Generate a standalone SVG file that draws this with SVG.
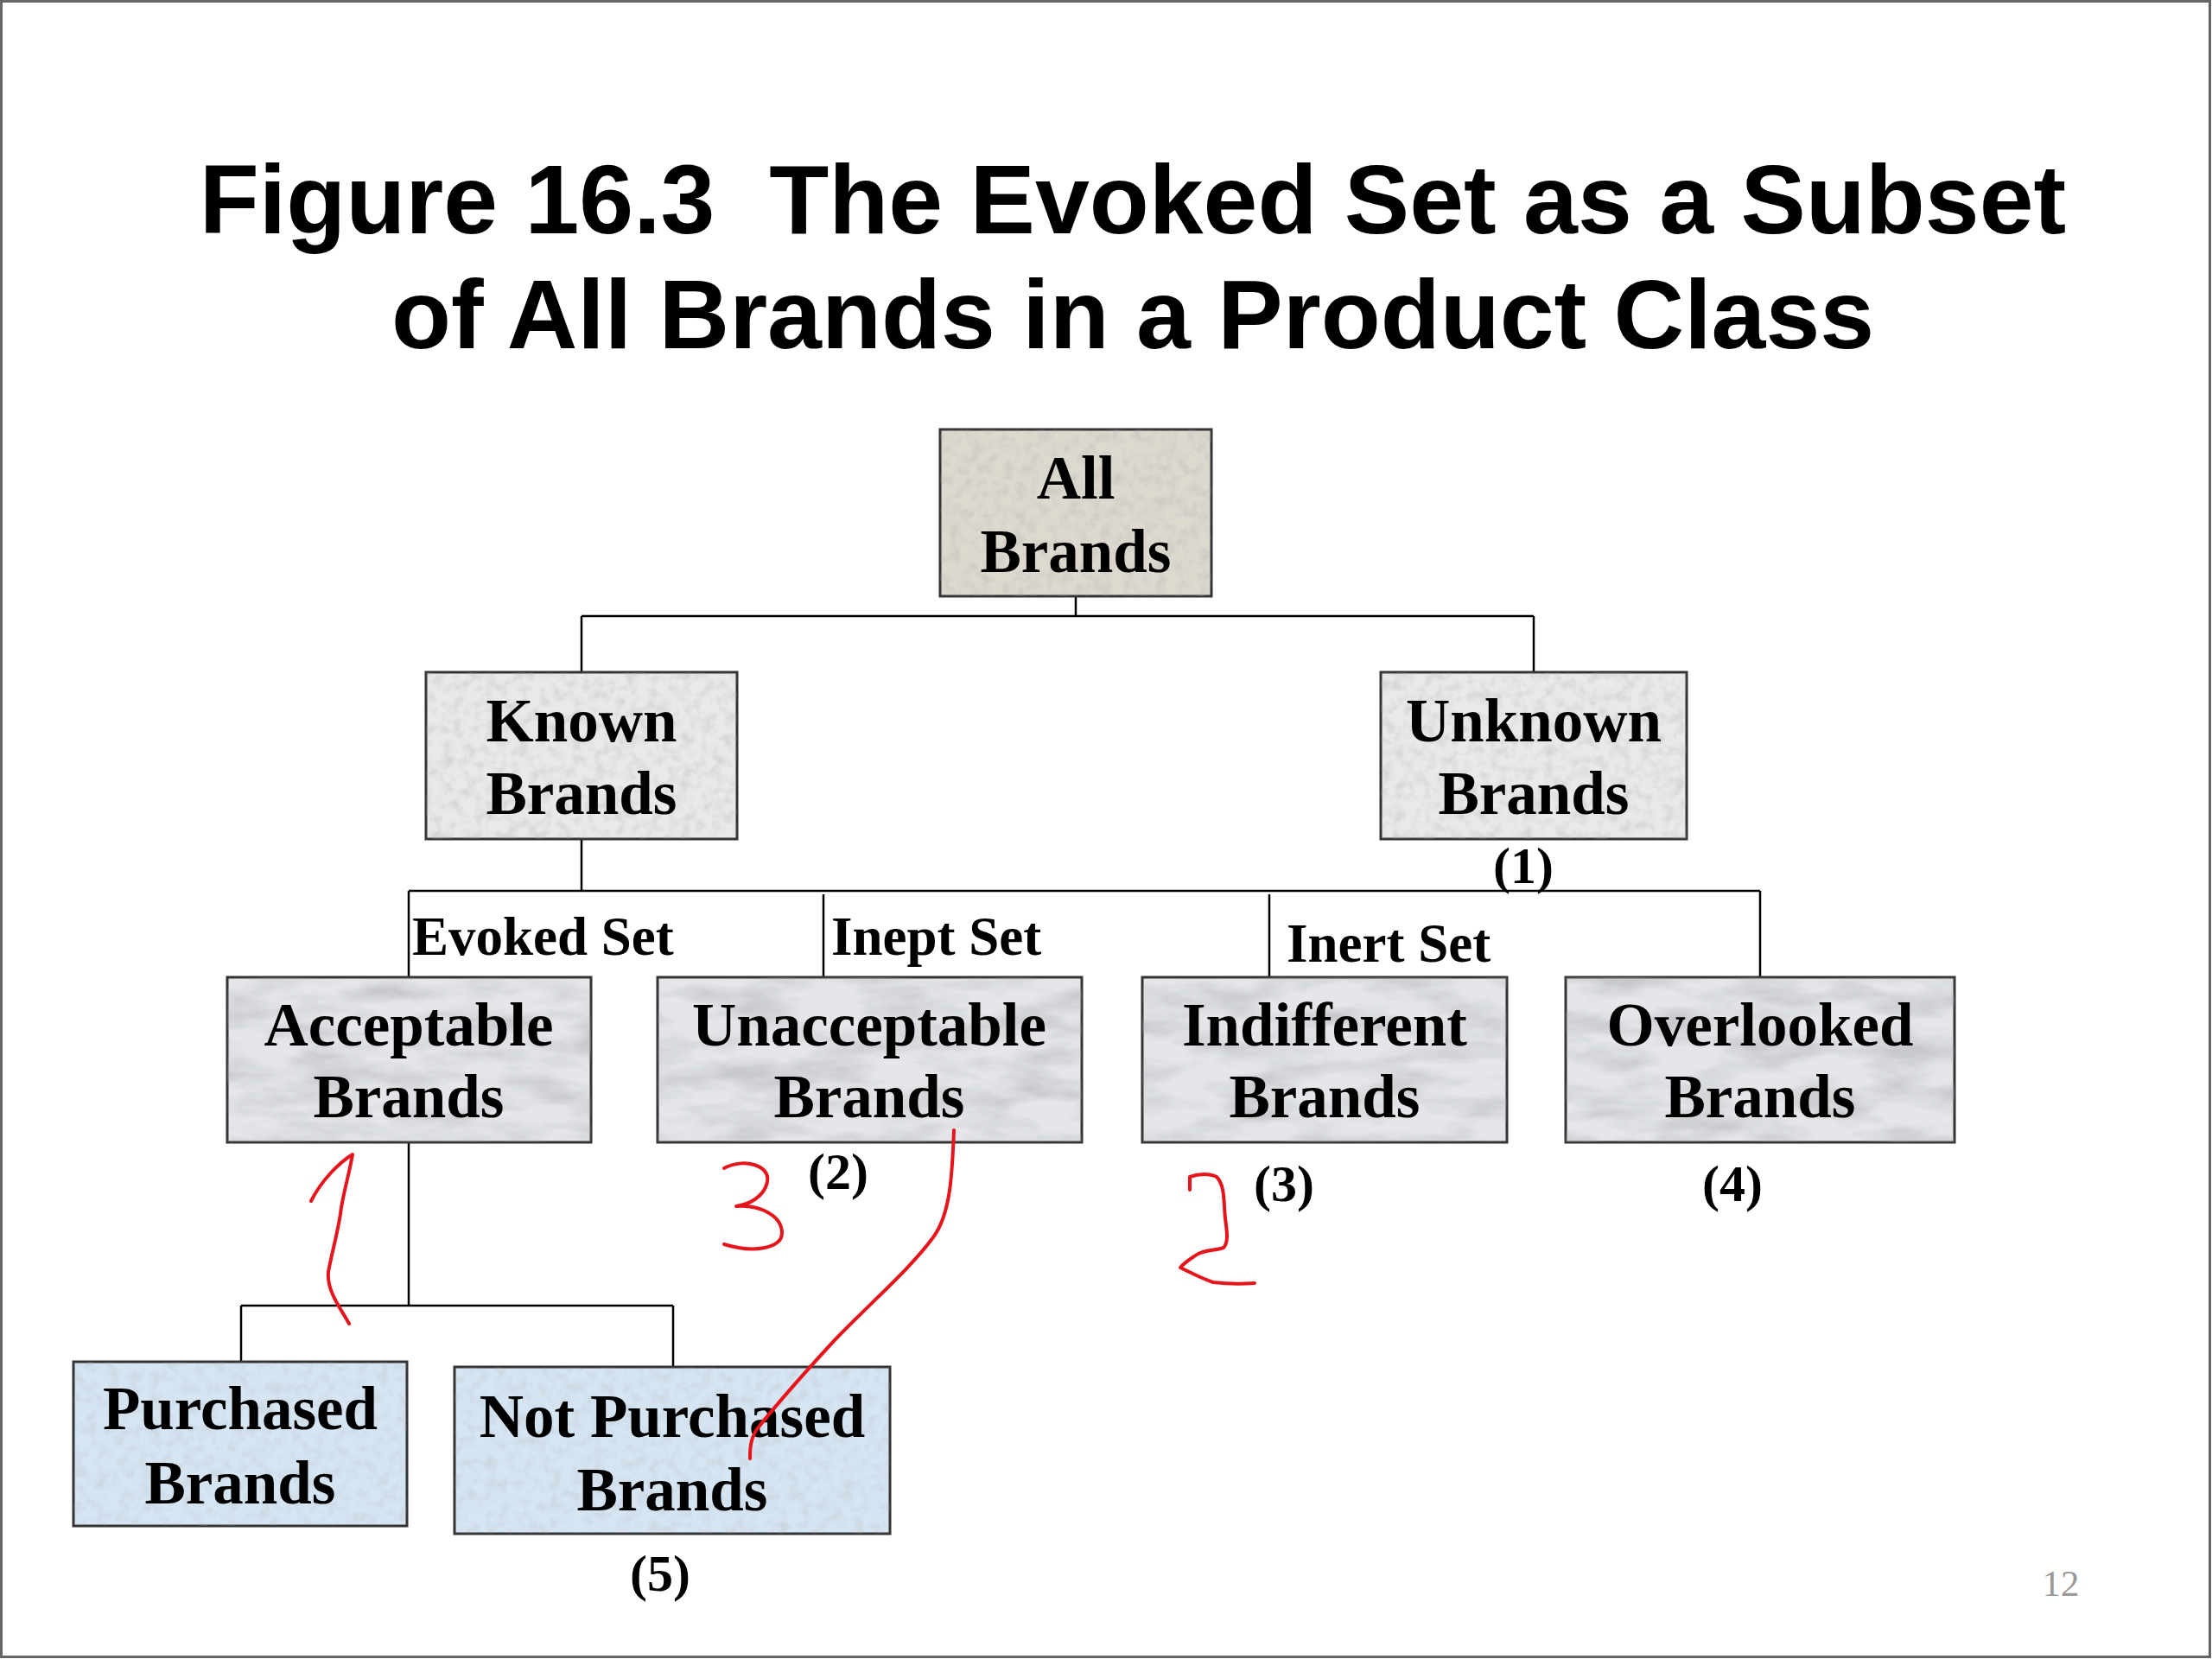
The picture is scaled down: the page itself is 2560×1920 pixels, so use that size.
<svg xmlns="http://www.w3.org/2000/svg" width="2560" height="1920" viewBox="0 0 2560 1920">
<defs>
<filter id="tex" x="0" y="0" width="100%" height="100%">
<feTurbulence type="fractalNoise" baseFrequency="0.012 0.035" numOctaves="4" seed="7"/>
<feColorMatrix type="matrix" values="0 0 0 0 0.35  0 0 0 0 0.36  0 0 0 0 0.38  1.6 0 0 0 -0.62"/>
<feComposite operator="in" in2="SourceGraphic"/>
</filter>
<filter id="grain" x="0" y="0" width="100%" height="100%">
<feTurbulence type="fractalNoise" baseFrequency="0.08" numOctaves="3" seed="2"/>
<feColorMatrix type="matrix" values="0 0 0 0 0.4  0 0 0 0 0.4  0 0 0 0 0.4  1.4 0 0 0 -0.58"/>
<feComposite operator="in" in2="SourceGraphic"/>
</filter>
</defs>
<style>
.title{font-family:"Liberation Sans",Arial,sans-serif;font-weight:bold;font-size:113px;fill:#000;text-anchor:middle}
.box{stroke:#333;stroke-width:3}
.t{font-family:"Liberation Serif","Times New Roman",serif;font-weight:bold;font-size:71px;fill:#000;text-anchor:middle}
.lbl{font-family:"Liberation Serif","Times New Roman",serif;font-weight:bold;font-size:63px;fill:#000}
.num{font-family:"Liberation Serif","Times New Roman",serif;font-weight:bold;font-size:60px;fill:#000;text-anchor:middle}
.conn{stroke:#000;stroke-width:2.5;fill:none}
.ink{stroke:#e8141b;stroke-width:4;fill:none;stroke-linecap:round;stroke-linejoin:round}
.beige{fill:#ded9cf}
.gran{fill:#e9e9e7}
.marb{fill:#e4e6e9}
.blue{fill:#d5e5f2}
</style>
<rect x="0" y="0" width="2560" height="1920" fill="#fff"/>
<rect x="1.5" y="1.5" width="2556" height="1916" fill="none" stroke="#666" stroke-width="3"/>
<text class="title" x="1311" y="270" xml:space="preserve">Figure 16.3  The Evoked Set as a Subset</text>
<text class="title" x="1311" y="403">of All Brands in a Product Class</text>
<g id="connectors">
<path class="conn" d="M1245 690V713M673 713H1775M673 713V778M1775 713V778"/>
<path class="conn" d="M673 971V1031M473 1031H2037M473 1031V1131M953 1035V1131M1469 1035V1131M2037 1031V1131"/>
<path class="conn" d="M473 1322V1511M279 1511H779M279 1511V1576M779 1511V1582"/>
</g>
<g id="all-brands">
<rect class="box beige" x="1088" y="497" width="314" height="193"/>
<rect x="1088" y="497" width="314" height="193" fill="#b8b0a0" filter="url(#grain)" opacity="0.5"/>
<text class="t" x="1245" y="577">All</text>
<text class="t" x="1245" y="662">Brands</text>
</g>
<g id="known-brands">
<rect class="box gran" x="493" y="778" width="360" height="193"/>
<rect x="493" y="778" width="360" height="193" fill="#999" filter="url(#grain)" opacity="0.5"/>
<text class="t" x="673" y="858">Known</text>
<text class="t" x="673" y="942">Brands</text>
</g>
<g id="unknown-brands">
<rect class="box gran" x="1598" y="778" width="354" height="193"/>
<rect x="1598" y="778" width="354" height="193" fill="#999" filter="url(#grain)" opacity="0.5"/>
<text class="t" x="1775" y="858">Unknown</text>
<text class="t" x="1775" y="942">Brands</text>
<text class="num" x="1763" y="1022">(1)</text>
</g>
<text class="lbl" x="477" y="1105">Evoked Set</text>
<text class="lbl" x="962" y="1105">Inept Set</text>
<text class="lbl" x="1489" y="1113">Inert Set</text>
<g id="acceptable-brands">
<rect class="box marb" x="263" y="1131" width="421" height="191"/>
<rect x="263" y="1131" width="421" height="191" fill="#888" filter="url(#tex)" opacity="0.6"/>
<text class="t" x="473" y="1210">Acceptable</text>
<text class="t" x="473" y="1293">Brands</text>
</g>
<g id="unacceptable-brands">
<rect class="box marb" x="761" y="1131" width="491" height="191"/>
<rect x="761" y="1131" width="491" height="191" fill="#888" filter="url(#tex)" opacity="0.6"/>
<text class="t" x="1006" y="1210">Unacceptable</text>
<text class="t" x="1006" y="1293">Brands</text>
<text class="num" x="970" y="1376">(2)</text>
</g>
<g id="indifferent-brands">
<rect class="box marb" x="1322" y="1131" width="422" height="191"/>
<rect x="1322" y="1131" width="422" height="191" fill="#888" filter="url(#tex)" opacity="0.6"/>
<text class="t" x="1533" y="1210">Indifferent</text>
<text class="t" x="1533" y="1293">Brands</text>
<text class="num" x="1486" y="1390">(3)</text>
</g>
<g id="overlooked-brands">
<rect class="box marb" x="1812" y="1131" width="450" height="191"/>
<rect x="1812" y="1131" width="450" height="191" fill="#888" filter="url(#tex)" opacity="0.6"/>
<text class="t" x="2037" y="1210">Overlooked</text>
<text class="t" x="2037" y="1293">Brands</text>
<text class="num" x="2005" y="1390">(4)</text>
</g>
<g id="purchased-brands">
<rect class="box blue" x="85" y="1576" width="386" height="190"/>
<rect x="85" y="1576" width="386" height="190" fill="#9ab" filter="url(#grain)" opacity="0.35"/>
<text class="t" x="278" y="1654">Purchased</text>
<text class="t" x="278" y="1740">Brands</text>
</g>
<g id="not-purchased-brands">
<rect class="box blue" x="526" y="1582" width="504" height="193"/>
<rect x="526" y="1582" width="504" height="193" fill="#9ab" filter="url(#grain)" opacity="0.35"/>
<text class="t" x="778" y="1663">Not Purchased</text>
<text class="t" x="778" y="1748">Brands</text>
<text class="num" x="764" y="1841">(5)</text>
</g>
<text x="2385" y="1847" font-family="Liberation Serif,'Times New Roman',serif" font-size="43" fill="#999" text-anchor="middle">12</text>
<g id="annotations">
<path class="ink" d="M360 1390C372 1366 392 1346 408 1336C404 1360 396 1385 394 1405C390 1430 384 1450 380 1472C378 1495 395 1515 404 1532"/>
<path class="ink" d="M838 1352C860 1340 892 1348 888 1368C884 1386 866 1394 852 1396C878 1394 904 1406 905 1426C906 1446 870 1450 838 1440"/>
<path class="ink" d="M1104 1308C1102 1360 1100 1405 1080 1432C1052 1470 1005 1510 965 1552C930 1590 895 1630 876 1654C868 1666 868 1678 868 1688"/>
<path class="ink" d="M1377 1377V1362C1388 1358 1400 1358 1408 1362C1418 1372 1416 1392 1418 1410C1420 1425 1422 1438 1416 1444C1404 1448 1392 1446 1382 1454C1376 1458 1370 1462 1366 1467C1380 1474 1392 1480 1404 1484C1420 1486 1440 1486 1452 1485"/>
</g>
</svg>
